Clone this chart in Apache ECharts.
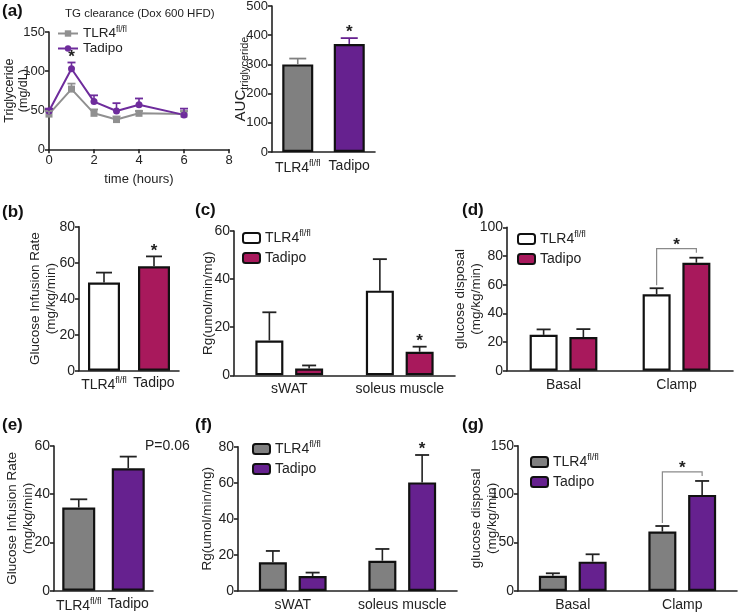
<!DOCTYPE html>
<html><head><meta charset="utf-8">
<script src="https://cdn.jsdelivr.net/npm/echarts@6/dist/echarts.min.js"></script>
<style>html,body{margin:0;padding:0;background:#fff}#c{width:739px;height:614px}</style>
</head><body><div id="c"></div>
<script>
// ===================== DATA =====================
// (a) TG clearance time course
const tgHours = [0, 1, 2, 3, 4, 6];
const tgTicksX = [0, 2, 4, 6, 8];
const tgTicksY = [0, 50, 100, 150];
const tgTLR4 = [45, 77, 46, 38, 46, 45];
const tgTLR4Err = [4, 7, 5, 4, 3, 4];
const tgTadipo = [49, 103, 61, 49, 57, 44];
const tgTadipoErr = [3, 8, 8, 10, 8, 8];
// (a) AUC
const genotypes = ['TLR4', 'Tadipo'];
const aucTicks = [0, 100, 200, 300, 400, 500];
const aucTG = [300, 370];
const aucTGErr = [20, 20];
// (b) glucose infusion rate
const girBTicks = [0, 20, 40, 60, 80];
const girB = [49, 58];
const girBErr = [5.5, 5.5];
// (c) tissue Rg
const tissues = ['sWAT', 'soleus muscle'];
const rgCTicks = [0, 20, 40, 60];
const rgC_TLR4 = [14.5, 35.2];
const rgC_TLR4Err = [11.7, 13.1];
const rgC_Tadipo = [2.8, 9.8];
const rgC_TadipoErr = [1.3, 2.1];
// (d) glucose disposal
const states = ['Basal', 'Clamp'];
const gdDTicks = [0, 20, 40, 60, 80, 100];
const gdD_TLR4 = [25, 53.3];
const gdD_TLR4Err = [3.8, 4.2];
const gdD_Tadipo = [23.5, 75.3];
const gdD_TadipoErr = [5.5, 3.5];
// (e) glucose infusion rate
const girETicks = [0, 20, 40, 60];
const girE = [34.5, 50.8];
const girEErr = [3.4, 4.8];
// (f) tissue Rg
const rgFTicks = [0, 20, 40, 60, 80];
const rgF_TLR4 = [15.9, 16.8];
const rgF_TLR4Err = [6.3, 6.5];
const rgF_Tadipo = [8.3, 60.2];
const rgF_TadipoErr = [1.9, 15.2];
// (g) glucose disposal
const gdGTicks = [0, 50, 100, 150];
const gdG_TLR4 = [15.8, 61.3];
const gdG_TLR4Err = [2.5, 5.8];
const gdG_Tadipo = [30.3, 99.2];
const gdG_TadipoErr = [7.6, 14.4];

// ===================== STYLE =====================
const FONT = '"Liberation Sans", Arial, Helvetica, sans-serif';
const TXT = '#222222';
const AX = '#222222';
const GRAY = '#808080';
const PURPLE = '#66218f';
const MAGENTA = '#a8195c';
const WHITE = '#ffffff';
const LGRAY = '#909090';
const LPURPLE = '#6e2c9c';

const RICH = {
  m: {fontSize: 14, color: TXT, fontFamily: FONT},
  s: {fontSize: 9, color: TXT, fontFamily: FONT, padding: [0, 0, 9, 0]}
};
function fmtCat(v) { return v === 'TLR4' ? '{m|TLR4}{s|fl/fl}' : '{m|' + v + '}'; }
function fmtLeg(n) { const b = n.split(' ')[0]; return b === 'TLR4' ? '{m|TLR4}{s|fl/fl}' : '{m|' + b + '}'; }

const grid = [], xAxis = [], yAxis = [], series = [], legend = [];
const axisLine = {show: true, onZero: false, lineStyle: {color: AX, width: 1.6}};
const axisTick = {show: true, length: 4, lineStyle: {color: AX, width: 1.6}};

function addGrid(l, t, w, h) {
  grid.push({left: l, top: t, width: w, height: h, containLabel: false, outerBoundsMode: 'none'});
  return grid.length - 1;
}
function addY(gi, ticks, name, gap, extra, labelSize) {
  yAxis.push(Object.assign({
    gridIndex: gi, type: 'value', min: ticks[0], max: ticks[ticks.length - 1], interval: ticks[1] - ticks[0],
    axisLine: axisLine, axisTick: axisTick,
    splitLine: {show: false},
    axisLabel: {color: TXT, fontSize: labelSize || 14, fontFamily: FONT, margin: 4},
    name: name, nameLocation: 'middle', nameRotate: 90, nameGap: gap, nameMoveOverlap: false,
    nameTextStyle: {color: TXT, fontSize: 13.5, fontFamily: FONT, lineHeight: 16}
  }, extra || {}));
}
function addXCat(gi, cats, margin) {
  xAxis.push({gridIndex: gi, type: 'category', data: cats, axisLine: axisLine, axisTick: {show: false},
    axisLabel: {color: TXT, fontSize: 14, fontFamily: FONT, margin: margin, interval: 0, formatter: fmtCat, rich: RICH}});
}
function addBars(gi, name, vals, colors, bw, gap) {
  series.push({type: 'bar', name: name, xAxisIndex: gi, yAxisIndex: gi, barWidth: bw, barGap: gap,
    data: vals.map((v, i) => ({value: v, itemStyle: {color: colors[i % colors.length]}})),
    itemStyle: {color: colors[0], borderColor: '#111', borderWidth: 2.2},
    silent: true, animation: false, z: 2});
}
function addErr(gi, xs, vals, errs, offset, colors, capW) {
  series.push({type: 'custom', xAxisIndex: gi, yAxisIndex: gi, silent: true, animation: false, z: 4,
    data: vals.map((v, i) => [xs[i], v, errs[i]]),
    renderItem: function (params, api) {
      const i = params.dataIndex;
      const p0 = api.coord([api.value(0), api.value(1)]);
      const p1 = api.coord([api.value(0), api.value(1) + api.value(2)]);
      const cx = p0[0] + offset;
      const c = colors[i % colors.length];
      return {type: 'group', children: [
        {type: 'line', shape: {x1: cx, y1: p0[1], x2: cx, y2: p1[1]}, style: {stroke: c, lineWidth: 1.6}},
        {type: 'line', shape: {x1: cx - capW / 2, y1: p1[1], x2: cx + capW / 2, y2: p1[1]}, style: {stroke: c, lineWidth: 1.8}}
      ]};
    }});
}
const starStyle = {text: '*', font: 'bold 17px ' + FONT, fill: TXT, align: 'center', verticalAlign: 'bottom'};
function addStar(gi, x, yVal, dx) {
  series.push({type: 'custom', xAxisIndex: gi, yAxisIndex: gi, silent: true, animation: false, z: 5,
    data: [[x, yVal]],
    renderItem: function (params, api) {
      const p = api.coord([api.value(0), api.value(1)]);
      return {type: 'text', x: p[0] + dx, y: p[1] + 3, style: starStyle};
    }});
}
function addBracket(gi, x, leftTop, rightTop, off) {
  series.push({type: 'custom', xAxisIndex: gi, yAxisIndex: gi, silent: true, animation: false, z: 5,
    data: [[x, leftTop, rightTop]],
    renderItem: function (params, api) {
      const pl = api.coord([api.value(0), api.value(1)]);
      const pr = api.coord([api.value(0), api.value(2)]);
      const xl = pl[0] - off, xr = pr[0] + off;
      const yb = Math.min(pl[1], pr[1]) - 9;
      return {type: 'group', children: [
        {type: 'polyline', shape: {points: [[xl, pl[1] - 3], [xl, yb], [xr, yb], [xr, yb + 4]]},
          style: {stroke: '#8a8a8a', lineWidth: 1.2, fill: null}},
        {type: 'text', x: (xl + xr) / 2, y: yb + 5, style: starStyle}
      ]};
    }});
}

// ---------- (a) line ----------
let g = addGrid(49, 32, 180, 117.3);
xAxis.push({gridIndex: g, type: 'value', min: tgTicksX[0], max: tgTicksX[tgTicksX.length - 1], interval: tgTicksX[1] - tgTicksX[0],
  axisLine: axisLine, axisTick: axisTick, splitLine: {show: false},
  axisLabel: {color: TXT, fontSize: 13, fontFamily: FONT, margin: 5},
  name: 'time (hours)', nameLocation: 'middle', nameGap: 24, nameMoveOverlap: false,
  nameTextStyle: {color: TXT, fontSize: 13, fontFamily: FONT}});
addY(g, tgTicksY, 'Triglyceride\n(mg/dL)', 18, {nameTextStyle: {color: TXT, fontSize: 12.5, fontFamily: FONT, lineHeight: 14}}, 13);
series.push({type: 'line', name: 'TLR4 a', xAxisIndex: g, yAxisIndex: g, data: tgHours.map((h, i) => [h, tgTLR4[i]]),
  symbol: 'rect', symbolSize: 7, lineStyle: {color: LGRAY, width: 2}, itemStyle: {color: LGRAY}, silent: true, animation: false, z: 3});
series.push({type: 'line', name: 'Tadipo a', xAxisIndex: g, yAxisIndex: g, data: tgHours.map((h, i) => [h, tgTadipo[i]]),
  symbol: 'circle', symbolSize: 7, lineStyle: {color: LPURPLE, width: 2}, itemStyle: {color: LPURPLE}, silent: true, animation: false, z: 3});
addErr(g, tgHours, tgTLR4, tgTLR4Err, 0, [LGRAY], 8);
addErr(g, tgHours, tgTadipo, tgTadipoErr, 0, [LPURPLE], 8);
addStar(g, tgHours[1], tgTadipo[1] + tgTadipoErr[1], 0);
legend.push({data: ['TLR4 a', 'Tadipo a'], orient: 'vertical', left: 57, top: 25, padding: 0, itemWidth: 20, itemHeight: 8, itemGap: 0,
  selectedMode: false, formatter: fmtLeg, textStyle: {color: TXT, fontSize: 13.5, fontFamily: FONT, lineHeight: 15, rich: {
    m: {fontSize: 13.5, color: TXT, fontFamily: FONT}, s: {fontSize: 8.5, color: TXT, fontFamily: FONT, padding: [0, 0, 8, 0]}}}});

// ---------- (a) AUC ----------
g = addGrid(272, 6, 103, 146);
addXCat(g, genotypes, 7);
addY(g, aucTicks, '{a|AUC}{b|triglyceride}', 22, {nameTextStyle: {color: TXT, fontFamily: FONT, rich: {
  a: {fontSize: 15, color: TXT, fontFamily: FONT}, b: {fontSize: 11, color: TXT, fontFamily: FONT, padding: [8, 0, 0, 0]}}}}, 13);
addBars(g, 'auc', aucTG, [GRAY, PURPLE], 31, '0%');
addErr(g, [0, 1], aucTG, aucTGErr, 0, [GRAY, PURPLE], 17);
addStar(g, 1, aucTG[1] + aucTGErr[1], 0);

// ---------- (b) ----------
g = addGrid(79, 226.7, 100, 144);
addXCat(g, genotypes, 5);
addY(g, girBTicks, 'Glucose Infusion Rate\n(mg/kg/min)', 20);
addBars(g, 'girB', girB, [WHITE, MAGENTA], 32, '0%');
addErr(g, [0, 1], girB, girBErr, 0, [TXT], 16);
addStar(g, 1, girB[1] + girBErr[1], 0);

// ---------- (c) ----------
const BW = 28, BG = '42%', OFF = (BW + BW * 0.42) / 2;
g = addGrid(234, 231, 221, 144.3);
addXCat(g, tissues, 7);
addY(g, rgCTicks, 'Rg(umol/min/mg)', 18);
addBars(g, 'TLR4 c', rgC_TLR4, [WHITE], BW, BG);
addBars(g, 'Tadipo c', rgC_Tadipo, [MAGENTA], BW, BG);
addErr(g, [0, 1], rgC_TLR4, rgC_TLR4Err, -OFF, [TXT], 14);
addErr(g, [0, 1], rgC_Tadipo, rgC_TadipoErr, OFF, [TXT], 14);
addStar(g, 1, rgC_Tadipo[1] + rgC_TadipoErr[1], OFF);
const legBase = {orient: 'vertical', padding: 0, itemWidth: 17, itemHeight: 10, itemGap: 4, selectedMode: false, formatter: fmtLeg,
  textStyle: {color: TXT, fontSize: 14, fontFamily: FONT, lineHeight: 16, rich: RICH}};
legend.push(Object.assign({data: ['TLR4 c', 'Tadipo c'], left: 242, top: 229}, legBase));

// ---------- (d) ----------
g = addGrid(507, 227.3, 226, 143.4);
addXCat(g, states, 7);
addY(g, gdDTicks, 'glucose disposal\n(mg/kg/min)', 23);
addBars(g, 'TLR4 d', gdD_TLR4, [WHITE], BW, BG);
addBars(g, 'Tadipo d', gdD_Tadipo, [MAGENTA], BW, BG);
addErr(g, [0, 1], gdD_TLR4, gdD_TLR4Err, -OFF, [TXT], 14);
addErr(g, [0, 1], gdD_Tadipo, gdD_TadipoErr, OFF, [TXT], 14);
addBracket(g, 1, gdD_TLR4[1] + gdD_TLR4Err[1], gdD_Tadipo[1] + gdD_TadipoErr[1], OFF);
legend.push(Object.assign({data: ['TLR4 d', 'Tadipo d'], left: 517, top: 230}, legBase));

// ---------- (e) ----------
g = addGrid(54, 446, 99, 144.7);
addXCat(g, genotypes, 6);
addY(g, girETicks, 'Glucose Infusion Rate\n(mg/kg/min)', 18);
addBars(g, 'girE', girE, [GRAY, PURPLE], 33, '0%');
addErr(g, [0, 1], girE, girEErr, 0, [TXT], 17);

// ---------- (f) ----------
g = addGrid(238, 446.7, 219, 144.3);
addXCat(g, tissues, 7);
addY(g, rgFTicks, 'Rg(umol/min/mg)', 23);
addBars(g, 'TLR4 f', rgF_TLR4, [GRAY], BW, BG);
addBars(g, 'Tadipo f', rgF_Tadipo, [PURPLE], BW, BG);
addErr(g, [0, 1], rgF_TLR4, rgF_TLR4Err, -OFF, [TXT], 14);
addErr(g, [0, 1], rgF_Tadipo, rgF_TadipoErr, OFF, [TXT], 14);
addStar(g, 1, rgF_Tadipo[1] + rgF_TadipoErr[1], OFF);
legend.push(Object.assign({data: ['TLR4 f', 'Tadipo f'], left: 252, top: 440}, legBase));

// ---------- (g) ----------
g = addGrid(518, 445.7, 219, 145.3);
addXCat(g, states, 7);
addY(g, gdGTicks, 'glucose disposal\n(mg/kg/min)', 18);
addBars(g, 'TLR4 g', gdG_TLR4, [GRAY], BW, BG);
addBars(g, 'Tadipo g', gdG_Tadipo, [PURPLE], BW, BG);
addErr(g, [0, 1], gdG_TLR4, gdG_TLR4Err, -OFF, [TXT], 14);
addErr(g, [0, 1], gdG_Tadipo, gdG_TadipoErr, OFF, [TXT], 14);
addBracket(g, 1, gdG_TLR4[1] + gdG_TLR4Err[1], gdG_Tadipo[1] + gdG_TadipoErr[1], OFF);
legend.push(Object.assign({data: ['TLR4 g', 'Tadipo g'], left: 530, top: 453}, legBase));

// ---------- text annotations ----------
const lbl = (t, x, y) => ({type: 'text', left: x, top: y, style: {text: t, font: 'bold 17px ' + FONT, fill: '#111'}});
const graphic = [
  lbl('(a)', 2, 3), lbl('(b)', 2, 204), lbl('(c)', 195, 202), lbl('(d)', 462, 202),
  lbl('(e)', 2, 417), lbl('(f)', 195, 417), lbl('(g)', 462, 417),
  {type: 'text', left: 65, top: 8, style: {text: 'TG clearance (Dox 600 HFD)', font: '11.5px ' + FONT, fill: TXT}},
  {type: 'text', left: 145, top: 439, style: {text: 'P=0.06', font: '14px ' + FONT, fill: TXT}}
];

const chart = echarts.init(document.getElementById('c'), null, {renderer: 'canvas', width: 739, height: 614});
chart.setOption({animation: false, backgroundColor: '#ffffff', textStyle: {fontFamily: FONT},
  grid: grid, xAxis: xAxis, yAxis: yAxis, series: series, legend: legend, graphic: graphic});
</script></body></html>
